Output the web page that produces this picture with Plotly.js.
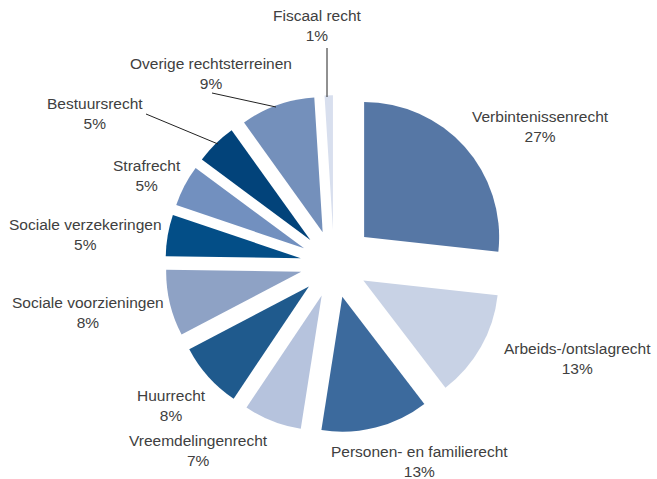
<!DOCTYPE html>
<html>
<head>
<meta charset="utf-8">
<script src="https://cdn.plot.ly/plotly-3.0.1.min.js"></script>
<style>html,body{margin:0;padding:0;background:#fff;}#chart{width:657px;height:479px;}</style>
</head>
<body>
<div id="chart"></div>
<script>
// Data
const categories = ["Verbintenissenrecht","Arbeids-/ontslagrecht","Personen- en familierecht","Vreemdelingenrecht","Huurrecht","Sociale voorzieningen","Sociale verzekeringen","Strafrecht","Bestuursrecht","Overige rechtsterreinen","Fiscaal recht"];
const percentages = [27,13,13,7,8,8,5,5,5,9,1];

// Styles
const colors = ["#5677a5","#c8d2e5","#3c6a9d","#b6c3dd","#1f5a8d","#8ea2c5","#034e87","#7290bf","#02437a","#7490bb","#d8dfee"];
const pulls = [0.30,0.25,0.25,0.25,0.25,0.25,0.25,0.25,0.25,0.25,0.25];
// label centres in pixels (x, y of block centre)
const labelPos = [[540,126],[577,358],[419,461],[198,450],[171,405],[88,312],[85,234],[147,176],[95,114],[211,73],[317,25]];
const leaderLines = [[327,48,327,97],[212,93,276,107],[146,114,218,144]];

const W = 657, H = 479;
const px = x => x / W, py = y => 1 - y / H;

const annotations = categories.map((c, i) => ({
  text: c + '<br>' + percentages[i] + '%',
  x: px(labelPos[i][0]), y: py(labelPos[i][1]),
  xref: 'paper', yref: 'paper', xanchor: 'center', yanchor: 'middle',
  showarrow: false, align: 'center',
  font: {family: '"Liberation Sans", Arial, sans-serif', size: 15.5, color: '#404040'}
}));

const shapes = leaderLines.map(l => ({
  type: 'line', xref: 'paper', yref: 'paper',
  x0: px(l[0]), y0: py(l[1]), x1: px(l[2]), y1: py(l[3]),
  line: {color: '#222', width: 1}
}));

const cx = 334, cy = 264, R = 135, maxPull = 0.30;
const half = R * (1 + maxPull);

Plotly.newPlot('chart', [{
  type: 'pie',
  labels: categories,
  values: percentages,
  sort: false,
  direction: 'clockwise',
  rotation: 0,
  pull: pulls,
  marker: {colors: colors, line: {width: 0}},
  textinfo: 'none',
  hoverinfo: 'label+percent',
  domain: {x: [(cx - half) / W, (cx + half) / W], y: [1 - (cy + half) / H, 1 - (cy - half) / H]}
}], {
  width: W, height: H,
  margin: {l: 0, r: 0, t: 0, b: 0},
  showlegend: false,
  paper_bgcolor: '#fff',
  annotations: annotations,
  shapes: shapes
}, {displayModeBar: false, staticPlot: true});
</script>
</body>
</html>
